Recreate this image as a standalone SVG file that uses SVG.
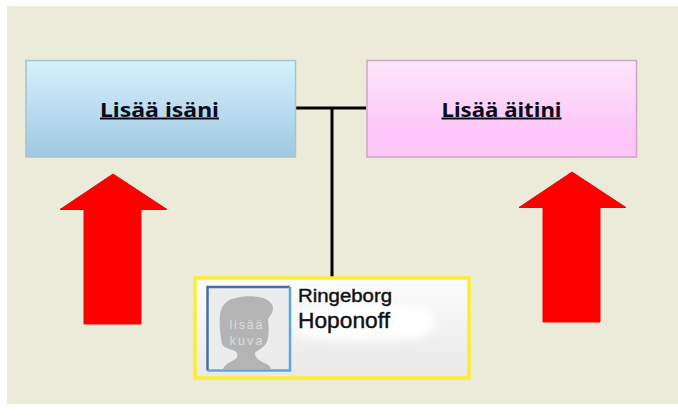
<svg xmlns="http://www.w3.org/2000/svg" width="678" height="419" viewBox="0 0 678 419">
<style>
.t{font-family:"Noto Sans","DejaVu Sans",sans-serif;font-weight:bold;font-size:20px;text-anchor:middle;text-decoration:underline;fill:#0a0a1a}
.n{font-family:"Liberation Sans",Arial,sans-serif;fill:#111;stroke:#111;stroke-width:.4px}
.p{font-family:"Liberation Sans",Arial,sans-serif;font-size:12.500px;fill:#dcdcdc;text-anchor:middle}
.c{stroke:#000;stroke-width:3;fill:none}
.a{fill:#fe0000;stroke:#e00a0a;stroke-width:1;stroke-linejoin:round}
</style>
<defs>
<linearGradient id="blue" x1="0" y1="0" x2="0" y2="1"><stop offset="0" stop-color="#d6f1fc"/><stop offset="1" stop-color="#a0c8e2"/></linearGradient>
<linearGradient id="pink" x1="0" y1="0" x2="0" y2="1"><stop offset="0" stop-color="#fce6fa"/><stop offset="0.8" stop-color="#fdc4f8"/><stop offset="1" stop-color="#fdc8f8"/></linearGradient>
<linearGradient id="card" x1="0" y1="0" x2="0" y2="1"><stop offset="0" stop-color="#fcfcfc"/><stop offset="1" stop-color="#e8e8e8"/></linearGradient>
<filter id="soft" x="-20%" y="-50%" width="140%" height="200%"><feGaussianBlur stdDeviation="4"/></filter>
</defs>
<rect x="0" y="0" width="678" height="419" fill="#fff"/>
<rect x="7" y="6" width="671" height="398" fill="#ecebda"/>
<g id="connectors">
<path class="c" d="M296 108H366"/>
<path class="c" d="M332 108V277"/>
</g>
<g id="father">
<rect x="26" y="60.500" width="269.500" height="96.500" fill="url(#blue)" stroke="#a5c4cf" stroke-width="1.500"/>
<text class="t" x="159.500" y="116.500" textLength="119" lengthAdjust="spacingAndGlyphs">Lisää isäni</text>
</g>
<g id="mother">
<rect x="367" y="60.500" width="269.500" height="96.500" fill="url(#pink)" stroke="#cfa5c6" stroke-width="1.500"/>
<text class="t" x="501.500" y="116.500" textLength="120" lengthAdjust="spacingAndGlyphs">Lisää äitini</text>
</g>
<g id="arrow-left"><polygon class="a" points="113,174 167,209.500 141,209.500 141,324 84,324 84,209.500 60,209.500"/></g>
<g id="arrow-right"><polygon class="a" points="572,172 626,207.500 600,207.500 600,322 543,322 543,207.500 519,207.500"/></g>
<g id="person">
<rect x="195" y="278" width="274" height="100" fill="url(#card)" stroke="#fbee2b" stroke-width="3.500"/>
<path d="M298 312Q360 298 428 309Q444 326 422 337Q360 344 298 336Z" fill="#fff" filter="url(#soft)"/>
<rect x="207.500" y="287" width="82.500" height="83.500" fill="#ececec"/>
<path d="M207.500 370.500V287H290" fill="none" stroke="#44709e" stroke-width="2.500"/>
<path d="M290 287V370.500H207.500" fill="none" stroke="#5ca6da" stroke-width="2.500"/>
<path d="M223 369C225 364 230 362 236 359C238 356 238 353 235 351C230 349 224 348 222 344C220 334 219 322 220 314C222 304 228 299 236 298C242 296 252 296 258 297C266 298 273 302 273 308C273 314 269 316 268 320C269 328 269 336 267 342C263 349 257 350 255 353C255 357 258 360 264 363C268 364 270 366 271 369Z" fill="#b4b4b4"/>
<text class="p" x="246" y="329" textLength="33" lengthAdjust="spacing">lisää</text>
<text class="p" x="246" y="345" textLength="33" lengthAdjust="spacing">kuva</text>
<text class="n" x="298" y="301.500" font-size="17.500" textLength="94" lengthAdjust="spacingAndGlyphs">Ringeborg</text>
<text class="n" x="298" y="327.500" font-size="22" textLength="92" lengthAdjust="spacingAndGlyphs">Hoponoff</text>
</g>
</svg>
